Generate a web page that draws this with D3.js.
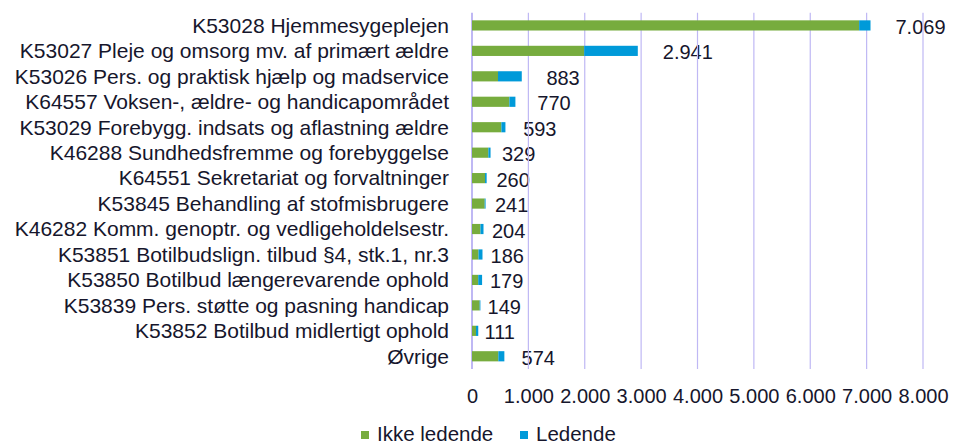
<!DOCTYPE html>
<html>
<head>
<meta charset="utf-8">
<script src="https://d3js.org/d3.v7.min.js"></script>
<style>
  body { margin: 0; background: #fff; }
  svg text { font-family: "Liberation Sans", Arial, sans-serif; fill: #16162c; }
</style>
</head>
<body>
<div id="chart"></div>
<script>
//Chart data
var categories = [
    "K53028 Hjemmesygeplejen",
    "K53027 Pleje og omsorg mv. af primært ældre",
    "K53026 Pers. og praktisk hjælp og madservice",
    "K64557 Voksen-, ældre- og handicapområdet",
    "K53029 Forebygg. indsats og aflastning ældre",
    "K46288 Sundhedsfremme og forebyggelse",
    "K64551 Sekretariat og forvaltninger",
    "K53845 Behandling af stofmisbrugere",
    "K46282 Komm. genoptr. og vedligeholdelsestr.",
    "K53851 Botilbudslign. tilbud §4, stk.1, nr.3",
    "K53850 Botilbud længerevarende ophold",
    "K53839 Pers. støtte og pasning handicap",
    "K53852 Botilbud midlertigt ophold",
    "Øvrige"
];
var ikkeLedende = [6867, 1990, 461, 663, 521, 290, 231, 225, 150, 115, 110, 136, 71, 467];
var ledende     = [202,  951,  422, 107, 72,  39,  29,  16,  54,  71,  69,  13,  40, 107];
var totals      = [7069, 2941, 883, 770, 593, 329, 260, 241, 204, 186, 179, 149, 111, 574];
var seriesNames = ["Ikke ledende", "Ledende"];
var xTicks = [0, 1000, 2000, 3000, 4000, 5000, 6000, 7000, 8000];

var svgWidth = 957;
var svgHeight = 444;

var colors = ["#77ac3e", "#009ad9"];
var gridColor = "#bfb8f4";

var svg = d3.select("#chart").append("svg")
    .attr("width", svgWidth)
    .attr("height", svgHeight);

//Scales
var xScale = d3.scaleLinear()
    .domain([0, 8000])
    .range([472, 923]);

var yScale = d3.scaleBand()
    .domain(categories)
    .range([12.7, 369])
    .paddingInner(0.6)
    .paddingOuter(0.3);

//Build rows for stacking
var rows = categories.map(function(c, i) {
    return { cat: c, "Ikke ledende": ikkeLedende[i], "Ledende": ledende[i], total: totals[i] };
});
var stack = d3.stack().keys(seriesNames)(rows);

//Value labels (drawn under the gridlines, as in the original)
var padScale = d3.scaleLinear().domain([100, 900]).range([6, 25]).clamp(true);
svg.append("g").selectAll("text")
    .data(rows)
    .enter()
    .append("text")
    .attr("x", d => xScale(d.total) + padScale(d.total))
    .attr("y", d => yScale(d.cat) + yScale.bandwidth() / 2 + 1.5)
    .attr("dy", "0.35em")
    .attr("font-size", "20px")
    .text(d => d3.format(",")(d.total).replace(/,/g, "."));

//Gridlines
var gridTop = 12.7, gridBottom = 369;
svg.append("g").selectAll("line")
    .data(xTicks)
    .enter()
    .append("line")
    .attr("x1", d => xScale(d))
    .attr("x2", d => xScale(d))
    .attr("y1", gridTop)
    .attr("y2", gridBottom)
    .attr("stroke", gridColor)
    .attr("stroke-width", d => d === 0 ? 2 : 1.2);

//Bars
svg.append("g").selectAll("g")
    .data(stack)
    .enter()
    .append("g")
    .attr("fill", (d, i) => colors[i])
    .selectAll("rect")
    .data(d => d)
    .enter()
    .append("rect")
    .attr("x", d => xScale(d[0]))
    .attr("width", d => xScale(d[1]) - xScale(d[0]))
    .attr("y", d => yScale(d.data.cat))
    .attr("height", yScale.bandwidth());

//Category axis
var leftAxis = d3.axisLeft(yScale).tickSize(0).tickPadding(0);
var yAxis = svg.append("g")
    .attr("transform", "translate(449, 0)")
    .call(leftAxis);
yAxis.select(".domain").remove();
yAxis.attr("font-family", null);
yAxis.selectAll("text")
    .attr("font-size", "21px")
    .attr("fill", null)
    .attr("dy", "0.35em");

//Value axis tick labels
var bottomAxis = d3.axisBottom(xScale)
    .tickValues(xTicks)
    .tickSize(0)
    .tickPadding(0)
    .tickFormat(d => d3.format(",")(d).replace(/,/g, "."));
var xAxis = svg.append("g")
    .attr("transform", "translate(0, 396)")
    .call(bottomAxis);
xAxis.select(".domain").remove();
xAxis.attr("font-family", null);
xAxis.selectAll("text")
    .attr("font-size", "20px")
    .attr("fill", null)
    .attr("dy", "0.35em");

//Legend
var legendX = [361, 520];
var legend = svg.append("g").selectAll("g")
    .data(seriesNames)
    .enter()
    .append("g")
    .attr("transform", (d, i) => `translate(${legendX[i]}, 434)`);
legend.append("rect")
    .attr("x", 0)
    .attr("y", -3)
    .attr("width", 8)
    .attr("height", 8)
    .attr("fill", (d, i) => colors[i]);
legend.append("text")
    .attr("x", 16)
    .attr("y", 0)
    .attr("dy", "0.35em")
    .attr("font-size", "20.5px")
    .text(d => d);
</script>
</body>
</html>
